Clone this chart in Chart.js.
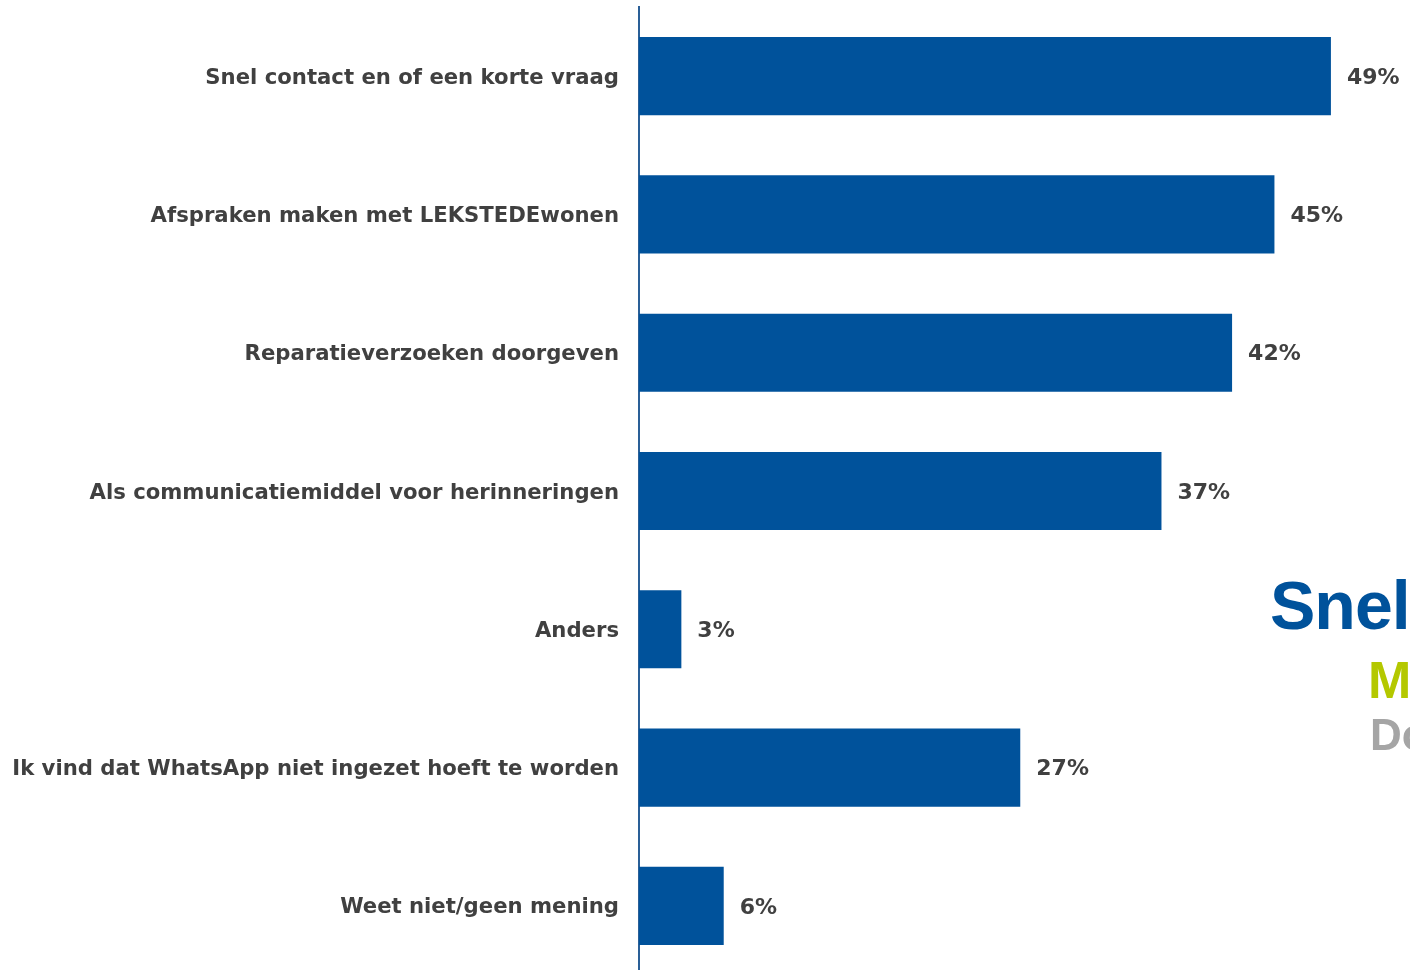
<!DOCTYPE html>
<html>
<head>
<meta charset="utf-8">
<script src="https://cdn.jsdelivr.net/npm/chart.js@4"></script>
<style>
  html, body { margin: 0; padding: 0; background: #fff; }
  body { width: 1410px; height: 970px; overflow: hidden; position: relative; }
  #wrap { position: absolute; left: 0; top: 0; width: 1410px; height: 975px; }
  .side { position: absolute; white-space: nowrap; font-family: "Liberation Sans", Arial, sans-serif; font-weight: bold; }
  #s1 { left: 1270px; top: 566px; font-size: 68px; color: #00529b; letter-spacing: -1px; }
  #s2 { left: 1368px; top: 650px; font-size: 52px; color: #b4c800; }
  #s3 { left: 1370px; top: 710px; font-size: 44px; color: #a5a5a5; }
</style>
</head>
<body>
<div id="wrap"><canvas id="answersChart"></canvas></div>
<div class="side" id="s1">Snel</div>
<div class="side" id="s2">M</div>
<div class="side" id="s3">Do</div>
<script>
// answer categories and share of respondents (%)
const categories = [
  'Snel contact en of een korte vraag',
  'Afspraken maken met LEKSTEDEwonen',
  'Reparatieverzoeken doorgeven',
  'Als communicatiemiddel voor herinneringen',
  'Anders',
  'Ik vind dat WhatsApp niet ingezet hoeft te worden',
  'Weet niet/geen mening'
];
const percentages = [49, 45, 42, 37, 3, 27, 6];
const xMax = 54.6;

const barBlue = '#00529b';
const textGrey = '#404040';
const labelFont = { family: '"DejaVu Sans", Verdana, sans-serif', size: 21.2, weight: 'bold' };

// write "49%" etc. just right of each bar end
const valueLabels = {
  id: 'valueLabels',
  afterDatasetsDraw(chart) {
    const ctx = chart.ctx;
    const meta = chart.getDatasetMeta(0);
    ctx.save();
    ctx.font = `bold 22px ${labelFont.family}`;
    ctx.fillStyle = textGrey;
    ctx.textAlign = 'left';
    ctx.textBaseline = 'middle';
    meta.data.forEach((bar, i) => {
      ctx.fillText(percentages[i] + '%', bar.x + 16, bar.y + 2);
    });
    ctx.restore();
  }
};

const ctx = document.getElementById('answersChart').getContext('2d');
const chart = new Chart(ctx, {
  type: 'bar',
  data: {
    labels: categories,
    datasets: [{
      data: percentages,
      backgroundColor: barBlue,
      borderWidth: 0,
      barPercentage: 0.565,
      categoryPercentage: 1
    }]
  },
  options: {
    indexAxis: 'y',
    responsive: true,
    maintainAspectRatio: false,
    animation: false,
    layout: { padding: { top: 7, right: 0, bottom: 0, left: 0 } },
    plugins: {
      legend: { display: false },
      tooltip: { enabled: false }
    },
    scales: {
      x: {
        display: false,
        min: 0,
        max: xMax
      },
      y: {
        grid: { display: false, drawTicks: false },
        border: { display: true, color: '#2a5f97', width: 2 },
        ticks: {
          autoSkip: false,
          padding: 20,
          labelOffset: 2,
          color: textGrey,
          font: labelFont
        },
        afterFit(scale) {
          scale.width = 639;
          scale.paddingTop = 0;
          scale.paddingBottom = 0;
        }
      }
    }
  },
  plugins: [valueLabels]
});
</script>
</body>
</html>
